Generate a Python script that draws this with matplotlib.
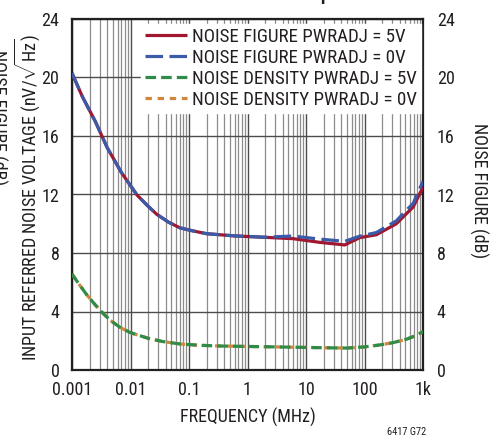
import matplotlib
matplotlib.use("Agg")
import matplotlib.pyplot as plt
from matplotlib.ticker import FixedLocator, NullFormatter, LogLocator

# ---- data ----
freq_nf = [0.001, 0.0015, 0.0025, 0.004, 0.007, 0.013, 0.02, 0.028, 0.045, 0.07,
           0.12, 0.2, 0.6, 2, 6, 17, 46, 83, 160, 350, 680, 1000]
nf_5v = [20.3, 18.7, 17.0, 15.2, 13.5, 11.95, 11.2, 10.65, 10.1, 9.72,
         9.5, 9.32, 9.17, 9.07, 8.98, 8.73, 8.55, 9.05, 9.25, 10.0, 11.15, 12.5]
nf_0v = [20.3, 18.7, 17.0, 15.2, 13.5, 11.95, 11.2, 10.65, 10.1, 9.72,
         9.5, 9.32, 9.17, 9.08, 9.16, 8.95, 8.8, 9.15, 9.4, 10.2, 11.4, 12.9]

freq_nd = [0.001, 0.0013, 0.0018, 0.0025, 0.0034, 0.0045, 0.0066, 0.01, 0.02, 0.035,
           0.07, 0.15, 0.34, 2.1, 8, 22, 50, 100, 180, 300, 520, 750, 1000]
nd_5v = [6.56, 5.9, 5.13, 4.45, 3.87, 3.4, 2.92, 2.55, 2.17, 1.95,
         1.78, 1.69, 1.64, 1.59, 1.55, 1.52, 1.50, 1.58, 1.71, 1.86, 2.1, 2.35, 2.62]
nd_0v = [6.56, 5.9, 5.13, 4.45, 3.87, 3.4, 2.92, 2.55, 2.17, 1.95,
         1.78, 1.69, 1.64, 1.59, 1.55, 1.52, 1.50, 1.58, 1.71, 1.86, 2.1, 2.35, 2.62]

series_labels = ["NOISE FIGURE PWRADJ = 5V", "NOISE FIGURE PWRADJ = 0V",
                 "NOISE DENSITY PWRADJ = 5V", "NOISE DENSITY PWRADJ = 0V"]
xticks = [0.001, 0.01, 0.1, 1, 10, 100, 1000]
xticklabels = ["0.001", "0.01", "0.1", "1", "10", "100", "1k"]
yticks = [0, 4, 8, 12, 16, 20, 24]

# ---- fonts ----
fam = "Roboto Condensed"
plt.rcParams['font.family'] = [fam, 'DejaVu Sans']
plt.rcParams['mathtext.fontset'] = 'custom'
plt.rcParams['mathtext.rm'] = fam
plt.rcParams['mathtext.it'] = fam
plt.rcParams['mathtext.fallback'] = 'cm'

FS = 13
txt = '#231f20'

fig = plt.figure(figsize=(4.95, 4.36), dpi=100)
ax = fig.add_axes([72/495, 66/436, 351/495, 351/436])

ax.set_xscale('log')
ax.set_xlim(0.001, 1000)
ax.set_ylim(0, 24)

# grid
ax.xaxis.set_major_locator(FixedLocator(xticks))
ax.xaxis.set_minor_locator(LogLocator(base=10, subs=range(2, 10), numticks=20))
ax.xaxis.set_minor_formatter(NullFormatter())
ax.set_xticklabels(xticklabels)
ax.set_yticks(yticks)
ax.grid(True, which='major', axis='x', color='#4d4d4d', lw=1.0, zorder=0)
ax.grid(True, which='minor', axis='x', color='#8c8c8c', lw=0.9, zorder=0)
ax.grid(True, which='major', axis='y', color='#4d4d4d', lw=1.0, zorder=0)
ax.tick_params(which='both', length=0)
ax.tick_params(axis='x', pad=8, labelsize=FS, colors=txt)
ax.tick_params(axis='y', pad=9, labelsize=FS, colors=txt)
for s in ax.spines.values():
    s.set_linewidth(1.6)
    s.set_color('#231f20')

l1, = ax.plot(freq_nf, nf_5v, color='#a0172f', lw=2.3, solid_capstyle='butt', zorder=3)
l2, = ax.plot(freq_nf, nf_0v, color='#3b5ba8', lw=2.3, dashes=(5.5, 2), zorder=4)
l3, = ax.plot(freq_nd, nd_5v, color='#d0873c', lw=2.3, dashes=(2, 1.8), zorder=3)
l4, = ax.plot(freq_nd, nd_0v, color='#2f8b47', lw=2.3, dashes=(3.3, 1.6), zorder=4)

leg = ax.legend([l1, l2, l4, l3], series_labels, loc='upper right',
                bbox_to_anchor=(0.995, 0.985), borderaxespad=0, frameon=True,
                fancybox=False, framealpha=1, edgecolor='white', facecolor='white',
                prop={'size': 13.6}, handlelength=2.2, handletextpad=0.3,
                labelspacing=0.16, borderpad=0.2)
for t in leg.get_texts():
    t.set_color(txt)
leg.set_zorder(5)

# right axis
ax2 = ax.twinx()
ax2.set_ylim(0, 24)
ax2.set_yticks(yticks)
ax2.tick_params(length=0, pad=10, labelsize=FS, colors=txt)
for s in ax2.spines.values():
    s.set_visible(False)

ax.set_xlabel("FREQUENCY (MHz)", fontsize=FS, color=txt, labelpad=6)

fig.text(479/495, 1 - 191/436, "NOISE FIGURE (dB)", rotation=-90, fontsize=FS,
         color=txt, ha='center', va='center')
fig.text(27/495, 1 - 198/436, r"INPUT REFERRED NOISE VOLTAGE (nV/$\sqrt{\mathrm{Hz}}$)",
         rotation=90, fontsize=FS, color=txt, ha='center', va='center')

# clipped elements of the original
fig.text(-2.5/495, 1 - 118/436, "NOISE FIGURE (dB)", rotation=-90, fontsize=FS,
         color=txt, ha='center', va='center')
fig.text(325/495, 1.0 + 0.5/436, "p", fontsize=FS, fontweight='bold', color=txt,
         ha='center', va='baseline')
fig.text(407/495, 1 - 432/436, "6417 G72", fontsize=7.5, color=txt, ha='center', va='center')

fig.savefig("out.png", dpi=100)
